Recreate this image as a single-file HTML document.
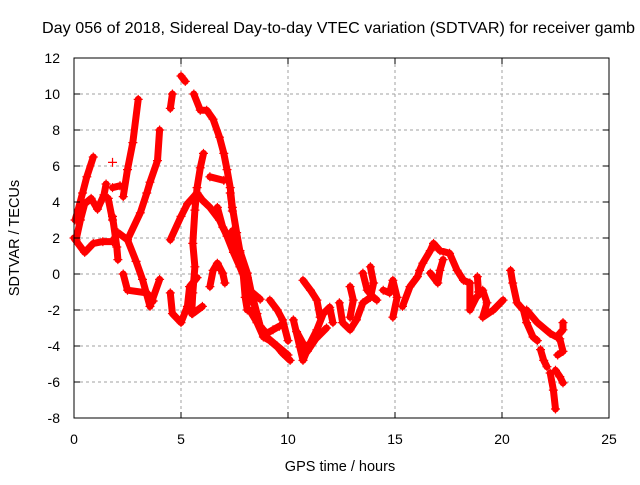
<!DOCTYPE html>
<html><head><meta charset="utf-8"><style>
body{margin:0;background:#fff;}
svg text{font-family:"Liberation Sans",sans-serif;fill:#000;}
</style></head><body>
<svg width="640" height="480" id="chart">
<rect width="640" height="480" fill="#fff"/>
<text x="42" y="33" font-size="16" textLength="593" lengthAdjust="spacingAndGlyphs">Day 056 of 2018, Sidereal Day-to-day VTEC variation (SDTVAR) for receiver gamb</text>
<text x="340" y="471" font-size="14.5" text-anchor="middle">GPS time / hours</text>
<text transform="translate(19,238) rotate(-90)" font-size="14.5" text-anchor="middle">SDTVAR / TECUs</text>
<g id="grid"></g><g id="marks"></g><g id="axes"></g>
</svg>
<script>
const xTicks=[0,5,10,15,20,25];
const yTicks=[-8,-6,-4,-2,0,2,4,6,8,10,12];
const tracks=[
[[0.05,3],[0.2,3.6],[0.4,4.5],[0.6,5.4],[0.9,6.5]],
[[0.1,1.9],[0.3,3.0],[0.5,3.9],[0.8,4.2],[1.1,3.6],[1.4,4.4],[1.5,5.0]],
[[0,2],[0.5,1.2],[0.9,1.7],[1.35,1.8],[1.8,1.8],[2.05,2.3],[2.5,1.9]],
[[1.8,3.2],[2.0,1.5],[2.05,0.8]],[[1.6,4.2],[1.8,3.0]],[[1.8,4.8],[2.15,4.9]],[[1.8,6.2]],
[[2.5,1.9],[3.1,3.4],[3.4,4.5],[3.55,5.1],[3.9,6.3],[4.0,8.0]],
[[2.3,4.3],[2.5,5.8],[2.75,7.3],[3.0,9.7]],
[[2.5,1.9],[2.9,0.7],[3.2,-0.3],[3.55,-1.8],[4.0,-0.3]],
[[2.3,0],[2.5,-0.9],[3.4,-1.05],[3.7,-1.5]],
[[4.5,9.2],[4.6,10]],[[5.0,11],[5.2,10.7]],
[[5.6,10],[5.9,9.1],[6.2,9.1],[6.5,8.6],[6.8,7.6],[7.0,6.7],[7.15,5.8],[7.3,4.8],[7.4,3.7],[7.6,2.3],[7.75,1.3],[8.1,0.05],[8.35,-1.4],[8.7,-2.9],[9.0,-3.5],[9.5,-4.0],[10.0,-4.5]],
[[4.5,1.9],[5.0,3.2],[5.3,3.9],[5.75,4.5],[6.0,4.1],[6.35,3.7],[6.8,3.0],[7.15,2.1],[7.45,1.2],[7.75,0.4],[8.2,-0.9],[8.7,-1.4]],
[[6.05,6.7],[5.9,5.9],[5.75,4.8],[5.65,3.55],[5.55,1.7],[5.65,0.4],[5.55,-1.05],[5.5,-2.2]],
[[4.5,-1.05],[4.6,-2.2],[5.0,-2.7],[5.3,-1.8],[5.4,-0.7],[5.75,-0.2]],
[[5.55,-2.2],[6.0,-1.8]],
[[6.35,-0.7],[6.5,0.2],[6.7,0.6],[6.95,0.05],[7.05,-0.5]],
[[6.35,5.4],[7.0,5.2]],
[[6.7,3.7],[6.95,2.6],[7.3,1.9],[7.75,1.2],[8.1,-0.2],[8.35,-1.6]],
[[7.3,4.5],[7.4,3.5]],
[[7.4,2.4],[7.75,1.3],[7.9,0.05],[8.0,-1.3],[8.1,-2.0],[8.2,-2],[8.55,-2.7],[8.85,-3.5],[9.15,-3.7],[9.5,-4.05],[9.75,-4.4],[10.1,-4.8]],
[[8.35,-1.3],[8.55,-2.2],[8.7,-2.9],[9.0,-3.3],[9.3,-3.1],[9.6,-2.9]],
[[9.15,-1.45],[9.5,-2],[9.75,-2.55],[10.0,-3.7]],
[[10.25,-2.55],[10.55,-4.05],[10.7,-4.8],[11.05,-3.8],[11.35,-3.1],[11.65,-2.2],[11.95,-1.85],[12.1,-2.7]],
[[10.7,-0.35],[11.05,-0.9],[11.35,-1.45],[11.5,-2.4]],
[[10.4,-3.2],[10.9,-4.3],[11.3,-3.6],[11.8,-3.0]],
[[12.4,-1.6],[12.55,-2.7],[12.9,-3.1],[13.2,-2.55],[13.5,-1.6],[13.85,-1.3],[14.0,-0.5],[13.85,0.4]],
[[12.9,-0.7],[13.05,-1.45],[12.9,-2.4]],
[[13.5,0.05],[13.7,-0.9],[14.0,-1.3],[14.15,-1.45]],
[[14.45,-0.9],[14.75,-1.05],[14.9,-0.35],[15.1,-1.3],[14.9,-2.4]],
[[15.35,-1.8],[15.7,-0.7],[16.05,-0.15],[16.15,0.2],[16.3,0.6],[16.65,1.3],[16.8,1.7],[17.1,1.3],[17.55,1.15],[17.9,0.2],[18.2,-0.35],[18.5,-0.5]],
[[16.65,0.05],[17.0,-0.5],[17.1,0.2],[17.25,0.8]],
[[18.5,-0.5],[18.5,-2],[18.8,-1.3],[19.1,-0.9],[19.3,-1.6],[19.1,-2.4],[19.6,-2],[20.05,-1.45]],
[[18.85,-0.15],[18.9,-1.0]],
[[20.4,0.2],[20.5,-0.5],[20.7,-1.6],[21.0,-2],[21.15,-2.7],[21.45,-3.5],[21.65,-3.7]],
[[21.15,-2],[21.65,-2.7],[22.25,-3.3],[22.55,-3.5],[22.85,-3.1],[22.85,-2.7]],
[[22.7,-3.6],[22.85,-4.3],[22.6,-4.5]],
[[21.8,-4.2],[21.95,-4.8],[22.1,-5.15]],
[[22.25,-5.5],[22.4,-6.45],[22.5,-7.5]],
[[22.5,-5.35],[22.7,-5.7],[22.85,-6.05]]
];
const X0=74,X1=609,Y0=418,Y1=58;
const xs=h=>X0+(h-0)/25*(X1-X0);
const ys=v=>Y0-(v+8)/20*(Y0-Y1);
const NS="http://www.w3.org/2000/svg";
function mk(t,a,p){const e=document.createElementNS(NS,t);for(const k in a)e.setAttribute(k,a[k]);p.appendChild(e);return e;}
const grid=document.getElementById('grid'),axes=document.getElementById('axes'),marks=document.getElementById('marks');
xTicks.forEach(t=>{const x=xs(t);
 if(t>0&&t<25){const g=mk('line',{x1:x,x2:x,y1:Y1,y2:Y0,stroke:'#a0a0a0','stroke-dasharray':'3,3'},grid);
 }
 mk('line',{x1:x,x2:x,y1:Y0,y2:Y0-6,stroke:'#000'},axes);mk('line',{x1:x,x2:x,y1:Y1,y2:Y1+6,stroke:'#000'},axes);
 const l=mk('text',{x:x,y:Y0+26,'font-size':'14','text-anchor':'middle'},axes);l.textContent=t;
 });
yTicks.forEach(t=>{const y=ys(t);
 if(t>-8&&t<12){const g=mk('line',{x1:X0,x2:X1,y1:y,y2:y,stroke:'#a0a0a0','stroke-dasharray':'3,3'},grid);
 }
 mk('line',{x1:X0,x2:X0+6,y1:y,y2:y,stroke:'#000'},axes);mk('line',{x1:X1,x2:X1-6,y1:y,y2:y,stroke:'#000'},axes);
 const l=mk('text',{x:X0-14,y:y+5,'font-size':'14','text-anchor':'end'},axes);l.textContent=t;
 });
const fr=mk('rect',{x:X0,y:Y1,width:X1-X0,height:Y0-Y1,fill:'none',stroke:'#000','stroke-width':1},axes);

tracks.forEach(tr=>{
 const p=tr.map(q=>xs(q[0]).toFixed(1)+','+ys(q[1]).toFixed(1)).join(' ');
 const pl=mk('polyline',{points:p,fill:'none',stroke:'#ff0000','stroke-width':7,'stroke-linejoin':'round','stroke-linecap':'round'},marks);
 
 
 tr.forEach(q=>{const x=xs(q[0]),y=ys(q[1]);
  const m=mk('path',{d:`M${x-4.5},${y}h9M${x},${y-4.5}v9`,stroke:'#ff0000','stroke-width':1.2},marks);
  
  });
});
</script>
</body></html>
